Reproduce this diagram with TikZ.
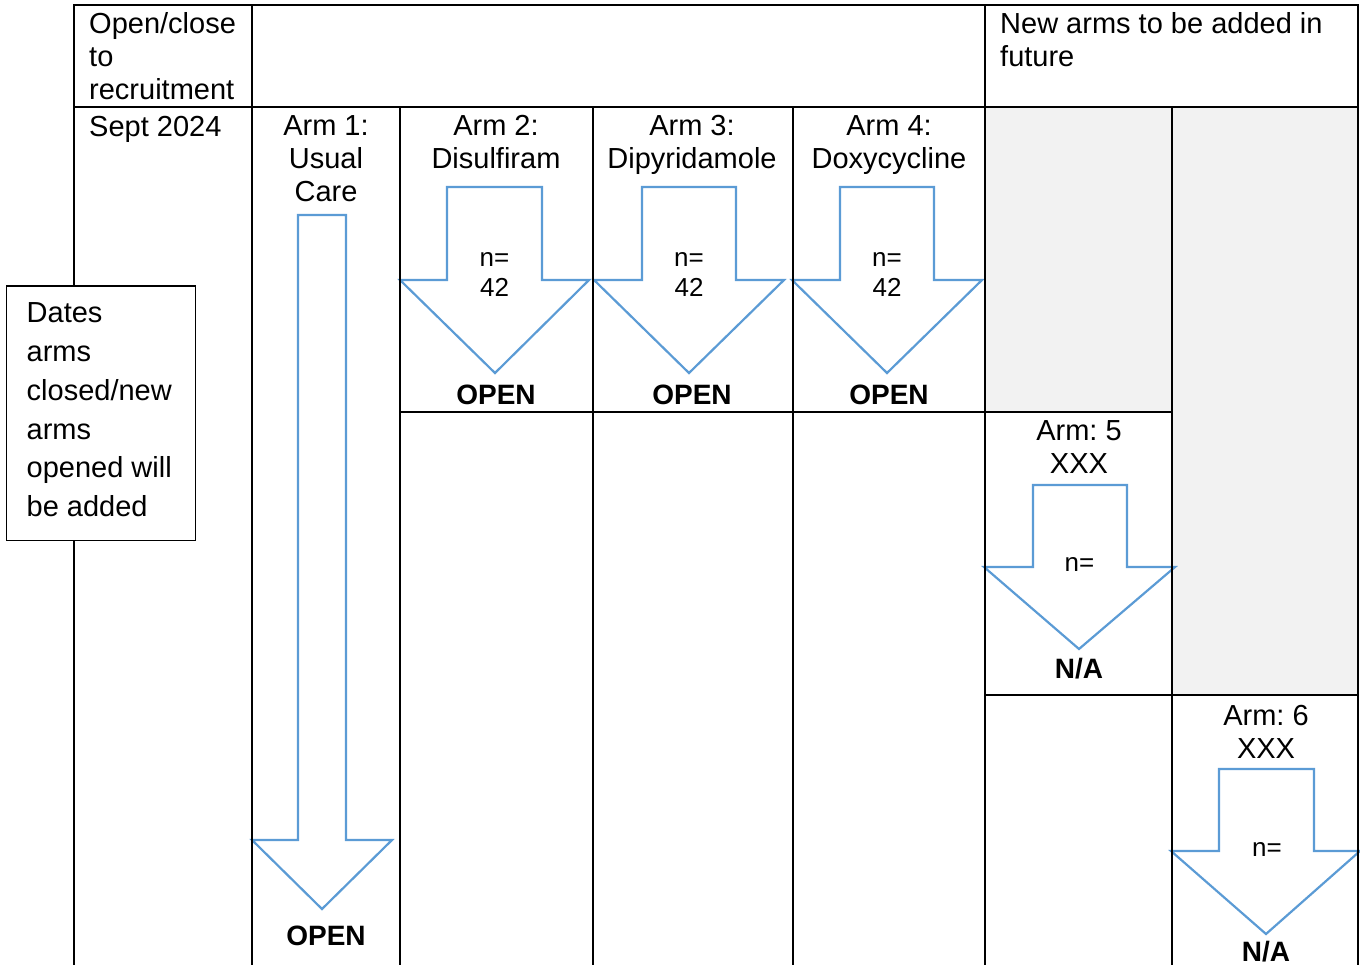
\documentclass[tikz,border=0pt]{standalone}
\usepackage{fontspec}
\setmainfont{Liberation Sans}
\usepackage{graphicx}
\definecolor{armblue}{HTML}{5B9BD5}
\definecolor{cellgray}{HTML}{F2F2F2}
\frenchspacing
\newcommand{\mlc}[1]{\begin{tabular}[t]{@{}c@{}}#1\end{tabular}}
\newcommand{\mll}[1]{\begin{tabular}[t]{@{}l@{}}#1\end{tabular}}
\newcommand{\armarrow}[8]{\draw[arw] (#1,#5) -- (#2,#5) -- (#2,#6) -- (#4,#6) -- (#7,#8) -- (#3,#6) -- (#1,#6) -- cycle;}
\begin{document}
\begin{tikzpicture}[x=1pt,y=-1pt,
  tbl/.style={line width=2pt,line cap=rect},
  arw/.style={draw=armblue,line width=2.2pt,line join=miter},
  txt/.style={inner sep=0pt,anchor=base,font=\fontsize{29}{33}\selectfont},
  txtl/.style={txt,anchor=base west},
  boldtxt/.style={txt,font=\fontsize{28}{33}\selectfont\bfseries},
  smalltxt/.style={txt,font=\fontsize{26}{30}\selectfont}]
\useasboundingbox (0,0) rectangle (1360,965);
% grey cells
\fill[cellgray] (985,107) rectangle (1172,412);
\fill[cellgray] (1172,107) rectangle (1358,695);
% arrows
\armarrow{298}{346}{252}{392}{215}{840}{322}{909}
\armarrow{447}{542}{400}{589}{187}{280}{495}{373}
\armarrow{642}{736}{594}{784}{187}{280}{689}{373}
\armarrow{840}{934}{792}{982}{187}{280}{887}{373}
\armarrow{1033}{1127}{984}{1175}{485}{567}{1079}{649}
\armarrow{1219}{1314}{1171}{1360}{769}{851}{1266}{934}
% table lines
\draw[tbl] (74,5) -- (1358,5);
\draw[tbl] (74,107) -- (1358,107);
\draw[tbl] (400,412) -- (1172,412);
\draw[tbl] (985,695) -- (1358,695);
\foreach \x in {74,252,985,1358} \draw[tbl] (\x,5) -- (\x,968);
\foreach \x in {400,593,793,1172} \draw[tbl] (\x,107) -- (\x,968);
% header texts
\node[txtl] (hdrleft) at (89,34) {\mll{Open/close\\to\\recruitment}};
\node[txtl] (hdrright) at (1000,34) {\mll{New arms to be added in\\future}};
\node[txtl] (sept) at (89,137) {Sept 2024};
% arm labels
\node[txt] (arm1) at (326,136) {\mlc{Arm 1:\\Usual\\Care}};
\node[txt] (arm2) at (496,136) {\mlc{Arm 2:\\Disulfiram}};
\node[txt] (arm3) at (692,136) {\mlc{Arm 3:\\Dipyridamole}};
\node[txt] (arm4) at (889,136) {\mlc{Arm 4:\\Doxycycline}};
\node[txt] (arm5) at (1079,440) {\mlc{Arm: 5\\XXX}};
\node[txt] (arm6) at (1266,725) {\mlc{Arm: 6\\XXX}};
% n values
\node[smalltxt] (n2) at (494.5,267) {\mlc{n=\\42}};
\node[smalltxt] (n3) at (689,267) {\mlc{n=\\42}};
\node[smalltxt] (n4) at (887,267) {\mlc{n=\\42}};
\node[smalltxt] (n5) at (1079.5,571) {n=};
\node[smalltxt] (n6) at (1267,856) {n=};
% status
\node[boldtxt] (st1) at (326,945) {OPEN};
\node[boldtxt] (st2) at (496,405) {OPEN};
\node[boldtxt] (st3) at (692,405) {OPEN};
\node[boldtxt] (st4) at (889,405) {OPEN};
\node[boldtxt] (st5) at (1079,678) {N/A};
\node[boldtxt] (st6) at (1266,961) {N/A};
% dates box
\node[draw,line width=1.6pt,fill=white,minimum width=189pt,minimum height=254pt,inner sep=0pt,anchor=north west] (datesbox) at (5.5,285.5) {};
\node[txtl,font=\fontsize{29}{38.7}\selectfont] (datestxt) at (26.5,323) {\mll{Dates\\arms\\closed/new\\arms\\opened will\\be added}};
\end{tikzpicture}
\end{document}
